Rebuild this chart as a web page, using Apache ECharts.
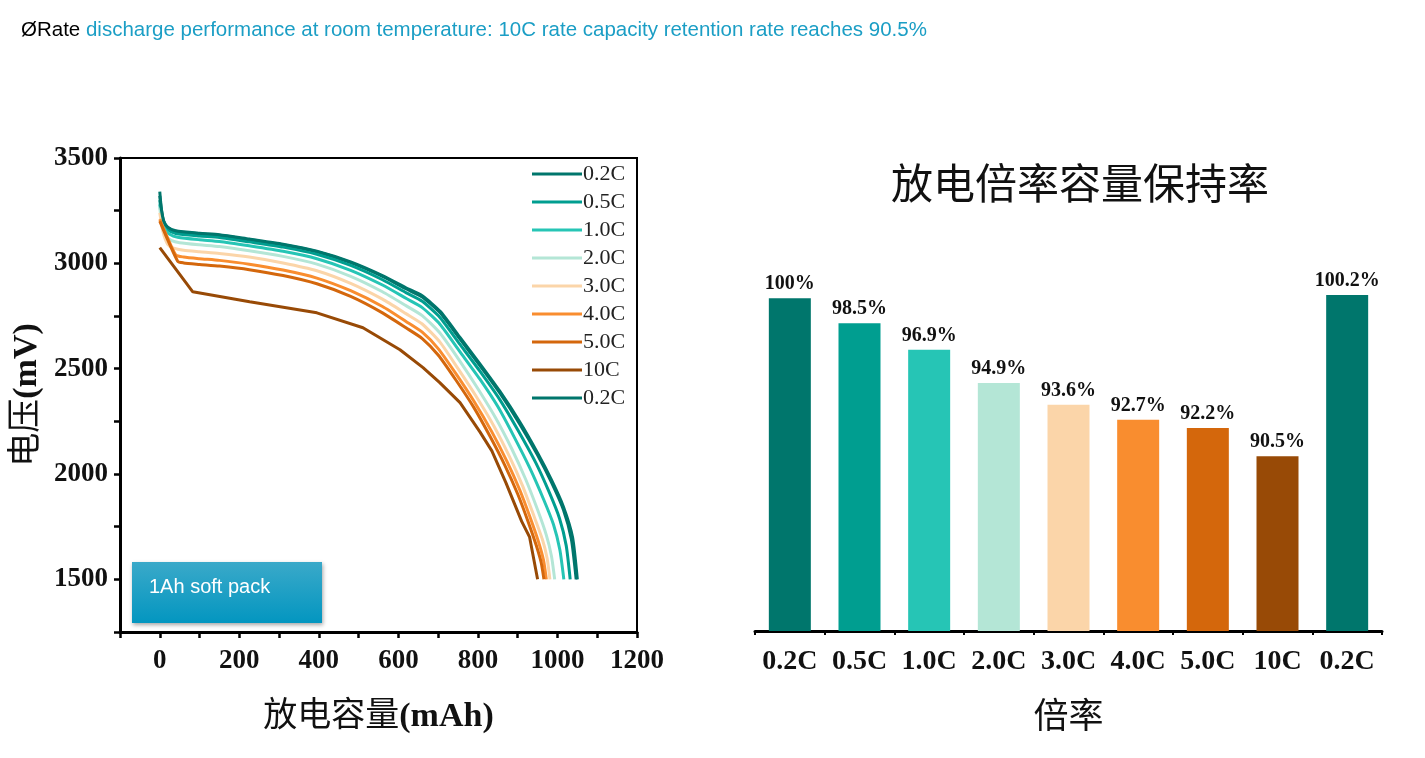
<!DOCTYPE html>
<html>
<head>
<meta charset="utf-8">
<script src="https://cdn.jsdelivr.net/npm/echarts@6/dist/echarts.min.js"></script>
<style>
  html, body { margin: 0; padding: 0; background: #fff; }
  #main { width: 1425px; height: 758px; }
</style>
</head>
<body>
<div id="main"></div>
<script>
// 放电曲线 [容量 mAh, 电压 mV]
const rateNames = ['0.2C', '0.5C', '1.0C', '2.0C', '3.0C', '4.0C', '5.0C', '10C', '0.2C'];
const rateColors = ['#00766c', '#009e90', '#26c5b5', '#b4e6d6', '#fbd5a9', '#f98d2f', '#d4670c', '#984a06', '#00766c'];

const curve02C = [[0,3340],[4,3260],[10,3200],[20,3170],[40,3152],[100,3140],[150,3133],[225,3112],[310,3088],[395,3055],[480,3003],[560,2938],[620,2878],[660,2840],[705,2765],[755,2640],[805,2515],[855,2385],[905,2238],[950,2090],[985,1960],[1015,1830],[1035,1690],[1047,1500]];
const curve05C = [[0,3300],[4,3240],[10,3190],[20,3160],[40,3142],[100,3130],[150,3123],[225,3102],[310,3077],[395,3043],[480,2990],[560,2922],[620,2860],[660,2820],[705,2742],[755,2615],[805,2488],[855,2353],[900,2210],[945,2055],[980,1910],[1005,1790],[1022,1660],[1032,1500]];
const curve10C_ = [[0,3280],[5,3210],[12,3165],[25,3138],[45,3124],[100,3112],[150,3104],[225,3083],[310,3057],[395,3022],[480,2967],[560,2897],[620,2833],[660,2790],[705,2710],[755,2580],[805,2450],[850,2320],[890,2180],[930,2030],[965,1880],[990,1760],[1006,1640],[1016,1500]];
const curve20C = [[0,3265],[6,3180],[15,3130],[30,3108],[50,3098],[100,3088],[150,3080],[225,3060],[310,3033],[395,2996],[480,2938],[560,2865],[620,2798],[660,2752],[705,2668],[755,2535],[800,2405],[845,2265],[885,2120],[920,1975],[950,1830],[972,1710],[985,1610],[993,1500]];
const curve30C = [[0,3240],[8,3150],[20,3090],[35,3072],[60,3062],[100,3055],[150,3047],[225,3030],[310,3002],[395,2965],[480,2905],[560,2830],[620,2760],[660,2712],[705,2625],[750,2500],[795,2370],[840,2228],[880,2080],[912,1945],[940,1805],[962,1690],[974,1600],[981,1500]];
const curve40C = [[0,3210],[40,3040],[60,3030],[100,3022],[150,3014],[225,2996],[310,2968],[395,2930],[480,2870],[560,2795],[620,2723],[660,2673],[700,2595],[745,2475],[790,2345],[835,2200],[873,2060],[905,1925],[932,1790],[952,1680],[965,1590],[972,1500]];
const curve50C = [[0,3200],[45,3010],[60,3002],[100,2995],[150,2987],[225,2970],[310,2942],[395,2903],[480,2843],[560,2765],[620,2693],[660,2643],[700,2565],[745,2445],[790,2315],[830,2180],[868,2040],[900,1905],[926,1775],[946,1665],[959,1580],[966,1500]];
const curve10C = [[0,3075],[83,2865],[226,2818],[395,2765],[511,2694],[604,2590],[662,2505],[704,2434],[755,2339],[805,2200],[835,2110],[870,1960],[910,1775],[930,1700],[950,1500]];
const curve02Cb = [[0,3320],[4,3255],[10,3200],[20,3172],[40,3155],[100,3143],[150,3136],[225,3115],[310,3091],[395,3058],[480,3007],[560,2942],[620,2883],[660,2846],[705,2772],[755,2648],[805,2523],[855,2393],[905,2248],[950,2100],[985,1972],[1015,1845],[1038,1700],[1050,1500]];
const curves = [curve02C, curve05C, curve10C_, curve20C, curve30C, curve40C, curve50C, curve10C, curve02Cb];

// 容量保持率 (%)
const barCategories = ['0.2C', '0.5C', '1.0C', '2.0C', '3.0C', '4.0C', '5.0C', '10C', '0.2C'];
const retention = [100, 98.5, 96.9, 94.9, 93.6, 92.7, 92.2, 90.5, 100.2];

const serif = "'Liberation Serif', 'Noto Sans CJK SC'";

let myChart = echarts.init(document.getElementById('main'));

// 图例里名字不能重复，第二个0.2C加个空格
const legendNames = rateNames.map((n, i) => i === rateNames.length - 1 ? n + ' ' : n);

let lineSeries = curves.map((c, i) => ({
  name: legendNames[i],
  type: 'line',
  xAxisIndex: 0,
  yAxisIndex: 0,
  data: c,
  showSymbol: false,
  symbol: 'none',
  smooth: i === 7 ? false : 0.2,   // 10C 那条有折角，不做平滑
  lineStyle: { width: 3, color: rateColors[i] },
  itemStyle: { color: rateColors[i] },
  z: 2 + i
}));

// 轴名：中文常规，括号部分加粗
const nameRich = {
  a: { fontFamily: serif, fontSize: 34, fontWeight: 'normal', color: '#111' },
  b: { fontFamily: serif, fontSize: 34, fontWeight: 'bold', color: '#111' }
};

let option = {
  animation: false,
  title: [
    {
      text: '{k|ØRate }{b|discharge performance at room temperature: 10C rate capacity retention rate reaches 90.5%}',
      left: 16,
      top: 15,
      textStyle: {
        rich: {
          k: { fontFamily: 'Liberation Sans', fontSize: 20.5, fontWeight: 'normal', color: '#000' },
          b: { fontFamily: 'Liberation Sans', fontSize: 20.5, fontWeight: 'normal', color: '#1b9ec5' }
        }
      }
    },
    {
      text: '放电倍率容量保持率',
      left: 1075,
      top: 162,
      textAlign: 'center',
      textStyle: { fontFamily: serif, fontSize: 42, fontWeight: 'normal', color: '#111' }
    }
  ],
  legend: {
    orient: 'vertical',
    left: 527,
    top: 158,
    icon: 'rect',
    itemWidth: 50,
    itemHeight: 3,
    itemGap: 6,
    data: legendNames,
    textStyle: { fontFamily: serif, fontSize: 22, lineHeight: 22, color: '#222', padding: [0, 0, 0, -4] }
  },
  grid: [
    { left: 120, right: 788, top: 158, bottom: 126, show: true, borderColor: '#000', borderWidth: 2 },
    { left: 755, right: 43, top: 265, bottom: 127 }
  ],
  xAxis: [
    {
      gridIndex: 0,
      type: 'value',
      min: -100,
      max: 1200,
      interval: 100,
      name: '{a|放电容量}{b|(mAh)}',
      nameLocation: 'middle',
      nameGap: 68,
      nameTextStyle: { rich: nameRich },
      axisLine: { onZero: false, lineStyle: { color: '#000', width: 3 } },
      axisTick: { length: 6, lineStyle: { color: '#000', width: 2.5 } },
      splitLine: { show: false },
      axisLabel: {
        margin: 16,
        fontFamily: serif, fontSize: 27, fontWeight: 'bold', color: '#111',
        formatter: v => (v >= 0 && v % 200 === 0) ? v : ''
      }
    },
    {
      gridIndex: 1,
      type: 'category',
      data: barCategories,
      name: '倍率',
      nameLocation: 'middle',
      nameGap: 70,
      nameTextStyle: { fontFamily: serif, fontSize: 35, color: '#111' },
      axisLine: { lineStyle: { color: '#000', width: 3 } },
      axisTick: { alignWithLabel: true, length: 8, lineStyle: { color: '#000', width: 2.5 } },
      axisLabel: { interval: 0, margin: 17, fontFamily: serif, fontSize: 28, fontWeight: 'bold', color: '#111' }
    },
    {
      // 柱间的小刻度
      gridIndex: 1,
      type: 'category',
      position: 'bottom',
      data: barCategories,
      axisLine: { show: false },
      axisTick: { show: true, interval: 0, length: 4, lineStyle: { color: '#000', width: 2 } },
      axisLabel: { show: false }
    }
  ],
  yAxis: [
    {
      gridIndex: 0,
      type: 'value',
      min: 1250,
      max: 3500,
      interval: 250,
      name: '{a|电压}{b|(mV)}',
      nameLocation: 'middle',
      nameGap: 76,
      nameTextStyle: { rich: nameRich },
      axisLine: { show: true, onZero: false, lineStyle: { color: '#000', width: 3 } },
      axisTick: { show: true, length: 6, lineStyle: { color: '#000', width: 2.5 } },
      splitLine: { show: false },
      axisLabel: {
        margin: 12,
        fontFamily: serif, fontSize: 27, fontWeight: 'bold', color: '#111',
        formatter: v => v % 500 === 0 ? v : ''
      }
    },
    { gridIndex: 1, type: 'value', min: 80, max: 102, show: false }
  ],
  graphic: [
    {
      type: 'rect',
      shape: { x: 132, y: 562, width: 190, height: 61 },
      style: {
        fill: new echarts.graphic.LinearGradient(0, 0, 0, 1, [
          { offset: 0, color: '#3aa9c9' },
          { offset: 1, color: '#0396c0' }
        ]),
        shadowBlur: 4,
        shadowOffsetX: 1,
        shadowOffsetY: 2,
        shadowColor: 'rgba(0,0,0,0.35)'
      },
      z: 100
    },
    {
      type: 'text',
      left: 149,
      top: 577,
      style: { text: '1Ah soft pack', fill: '#fff', font: '20px "Liberation Sans"' },
      z: 101
    }
  ],
  series: lineSeries.concat([
    {
      type: 'bar',
      xAxisIndex: 1,
      yAxisIndex: 1,
      barWidth: 42,
      data: retention.map((v, i) => ({ value: v, itemStyle: { color: rateColors[i] } })),
      label: {
        show: true,
        position: 'top',
        distance: 4,
        formatter: '{c}%',
        fontFamily: serif,
        fontSize: 20,
        fontWeight: 'bold',
        color: '#111'
      }
    }
  ])
};

myChart.setOption(option, true);
</script>
</body>
</html>
